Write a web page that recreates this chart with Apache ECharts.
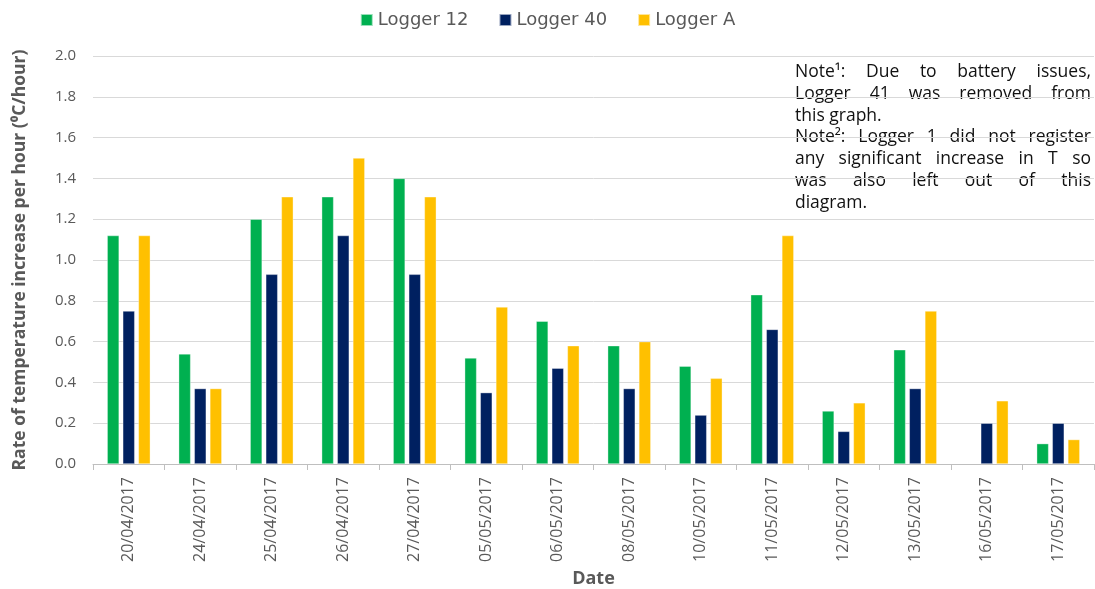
<!DOCTYPE html>
<html><head><meta charset="utf-8">
<script src="https://cdn.jsdelivr.net/npm/echarts@6/dist/echarts.min.js"></script>
<style>html,body{margin:0;padding:0;background:#fff}#c{width:1095px;height:589px}</style>
</head><body><div id="c"></div>
<script>
const categories = ['20/04/2017','24/04/2017','25/04/2017','26/04/2017','27/04/2017','05/05/2017','06/05/2017','08/05/2017','10/05/2017','11/05/2017','12/05/2017','13/05/2017','16/05/2017','17/05/2017'];
const logger12 = [1.12,0.54,1.20,1.31,1.40,0.52,0.70,0.58,0.48,0.83,0.26,0.56,null,0.10];
const logger40 = [0.75,0.37,0.93,1.12,0.93,0.35,0.47,0.37,0.24,0.66,0.16,0.37,0.20,0.20];
const loggerA  = [1.12,0.37,1.31,1.50,1.31,0.77,0.58,0.60,0.42,1.12,0.30,0.75,0.31,0.12];
const seriesNames = ['Logger 12','Logger 40','Logger A'];
const noteLines = [
  ['Note¹: Due to battery issues,', true],
  ['Logger 41 was removed from', true],
  ['this graph.', false],
  ['Note²: Logger 1 did not register', true],
  ['any significant increase in T so', true],
  ['was also left out of this', true],
  ['diagram.', false]
];

const colors = ['#00B050','#002060','#FFC000'];
const chart = echarts.init(document.getElementById('c'));

// justified note text
const noteFont = '17.5px "Open Sans"';
const cv = document.createElement('canvas').getContext('2d');
cv.font = noteFont;
const noteLeft = 795, noteRight = 1091, noteTop = 72, noteLH = 21.8;
const graphics = [];
noteLines.forEach((ln, i) => {
  const y = noteTop + i * noteLH;
  const words = ln[0].split(' ');
  if (!ln[1]) {
    graphics.push({type:'text', x: noteLeft, y: y, style:{text: ln[0], font: noteFont, fill:'#111', verticalAlign:'middle'}});
    return;
  }
  const widths = words.map(w => cv.measureText(w).width);
  const total = widths.reduce((a,b)=>a+b,0);
  const gap = (noteRight - noteLeft - total) / (words.length - 1);
  let x = noteLeft;
  words.forEach((w, j) => {
    graphics.push({type:'text', x: x, y: y, style:{text: w, font: noteFont, fill:'#111', verticalAlign:'middle'}});
    x += widths[j] + gap;
  });
});

const mk = (name, data, c) => ({
  name, type:'bar', data, barWidth: 12, barGap: '30%', barCategoryGap: '40%',
  itemStyle:{color:c, borderColor:'rgba(255,255,255,0.6)', borderWidth:0.6}
});

chart.setOption({
  animation:false,
  textStyle:{fontFamily:'"Open Sans"'},
  legend:{
    top: 6, left: 'center',
    itemWidth: 12, itemHeight: 12, itemGap: 30,
    icon:'rect',
    textStyle:{fontFamily:'"DejaVu Sans"', fontSize:18, color:'#595959'},
    data: seriesNames
  },
  grid:{left:93, right:1, top:56, bottom:125, containLabel:false, outerBoundsMode:'none'},
  xAxis:{
    type:'category', data: categories,
    name:'Date', nameLocation:'middle', nameGap: 104,
    nameTextStyle:{fontWeight:'bold', fontSize:18, color:'#595959', fontFamily:'"Open Sans"'},
    axisLine:{lineStyle:{color:'#bfbfbf', width:1}},
    axisTick:{show:true, length:6, lineStyle:{color:'#bfbfbf'}},
    axisLabel:{rotate:90, margin:13, fontSize:16, color:'#595959', fontFamily:'"Open Sans"', interval:0}
  },
  yAxis:{
    type:'value', min:0, max:2, interval:0.2,
    name:'Rate of temperature increase per hour (⁰C/hour)',
    nameLocation:'middle', nameGap: 64, nameRotate: 90,
    nameTextStyle:{fontWeight:'bold', fontSize:17.5, color:'#595959', fontFamily:'"Open Sans"'},
    axisLine:{show:false}, axisTick:{show:false},
    splitLine:{lineStyle:{color:'#d9d9d9', width:1}},
    axisLabel:{formatter: v => v.toFixed(1), fontSize:15, color:'#595959', margin:17, fontFamily:'"Open Sans"'}
  },
  series:[mk(seriesNames[0], logger12, colors[0]), mk(seriesNames[1], logger40, colors[1]), mk(seriesNames[2], loggerA, colors[2])],
  graphic: graphics
});
</script></body></html>
